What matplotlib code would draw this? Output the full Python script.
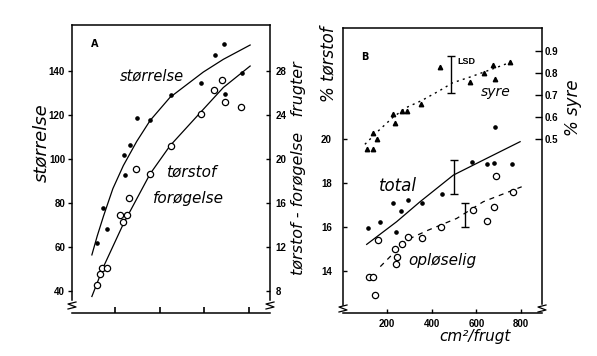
import numpy as np
import matplotlib
matplotlib.use('Agg')
import matplotlib.pyplot as plt
from matplotlib.lines import Line2D

# ---- panel A: fruit size (left axis) and dry matter gain (right axis)
size_x = [118, 148, 166, 242, 245, 267, 297, 357, 449, 585, 648, 688, 693, 767]
size_y = [62, 77.6, 68, 101.8, 92.7, 106.4, 118.5, 117.7, 129, 134.7, 147.3, 152.3, 129.5, 139]
size_curve_x = [96, 120, 148, 190, 237, 297, 357, 446, 595, 685, 805]
size_curve_y = [56.4, 65, 74, 86.5, 97, 108, 117.5, 128, 139.5, 145.3, 151.8]

dry_x = [118, 133, 140, 163, 222, 237, 252, 264, 293, 357, 449, 584, 643, 681, 693, 765]
dry_y = [8.55, 9.55, 10.1, 10.05, 14.9, 14.3, 14.9, 16.45, 19.1, 18.65, 21.2, 24.1, 26.3, 27.2, 25.2, 24.7]
dry_curve_x = [96, 148, 237, 357, 446, 581, 685, 805]
dry_curve_y = [7.5, 10.2, 14.1, 18.65, 21.2, 24.2, 26.5, 28.45]

# ---- panel B: acid (right axis), total and soluble dry matter (left axis)
acid_x = [112, 139, 139, 154, 228, 236, 266, 288, 352, 437, 572, 634, 676, 684, 751]
acid_y = [0.455, 0.453, 0.529, 0.499, 0.614, 0.575, 0.629, 0.629, 0.659, 0.828, 0.759, 0.80, 0.836, 0.774, 0.851]
acid_curve_x = [101, 161, 228, 288, 355, 437, 494, 572, 676, 758]
acid_curve_y = [0.476, 0.537, 0.600, 0.644, 0.675, 0.721, 0.756, 0.782, 0.820, 0.851]

total_x = [116, 169, 228, 240, 263, 295, 355, 445, 579, 646, 679, 684, 761]
total_y = [15.94, 16.21, 17.10, 15.76, 16.73, 17.23, 17.08, 17.49, 18.97, 18.86, 18.89, 20.53, 18.86]
total_curve_x = [109, 243, 348, 497, 646, 796]
total_curve_y = [15.21, 16.24, 17.15, 18.36, 19.12, 19.88]

sol_x = [121, 139, 146, 158, 236, 239, 243, 266, 295, 358, 442, 584, 646, 679, 686, 763]
sol_y = [13.74, 13.74, 12.91, 15.41, 15.0, 14.30, 14.65, 15.21, 15.56, 15.49, 15.99, 16.77, 16.29, 16.92, 18.32, 17.58]
sol_curve_x = [170, 288, 385, 512, 631, 803]
sol_curve_y = [14.2, 15.41, 15.86, 16.39, 17.15, 17.83]

lsd_acid = (487, 0.708, 0.878)
lsd_total = (500, 17.5, 19.05)
lsd_sol = (551, 15.99, 17.10)

W, H = 597, 356


def fx(px):
    return px / W


def fy(py):
    return 1 - py / H


tick_font = 'Liberation Sans'
hand = dict(family='DejaVu Sans', style='italic', color='black')
tick_kw = dict(labelsize=7, width=1, colors='black')

fig = plt.figure(figsize=(5.97, 3.56), dpi=100)


def style_ticklabels(ax):
    for lab in ax.get_xticklabels() + ax.get_yticklabels():
        lab.set_fontfamily(tick_font)
        lab.set_fontweight('bold')


def break_mark(px, py):
    xs = [px - 4, px + 4, px - 4, px + 4]
    ys = [py + 4, py + 2, py - 1, py - 3]
    fig.add_artist(Line2D([fx(x) for x in xs], [fy(y) for y in ys],
                          transform=fig.transFigure, color='black', lw=0.9))


# ---------------- panel A
axA = fig.add_axes([fx(72), fy(313), fx(270) - fx(72), fy(25) - fy(313)])
axA.set_xlim(7, 894)
axA.set_ylim(30, 160.9)
axA2 = axA.twinx()
axA2.set_ylim(6, 32.18)

axA.plot(size_curve_x, size_curve_y, color='black', lw=0.9)
axA.plot(size_x, size_y, 'o', color='black', ms=2.3)
axA2.plot(dry_curve_x, dry_curve_y, color='black', lw=0.9)
axA2.plot(dry_x, dry_y, 'o', mfc='white', mec='black', ms=4.5, mew=0.9)

axA.set_yticks([40, 60, 80, 100, 120, 140])
axA.set_xticks([200, 400, 600, 800])
axA.tick_params(axis='y', direction='out', length=3, pad=2, **tick_kw)
axA.tick_params(axis='x', direction='in', length=4, labelbottom=False, width=1.2)
axA2.set_yticks([8, 12, 16, 20, 24, 28])
axA2.tick_params(axis='y', direction='in', length=3, pad=4, **tick_kw)
axA.spines['right'].set_visible(False)
axA.spines['left'].set_bounds(35.9, 160.9)
for s in ['left', 'top', 'bottom']:
    axA2.spines[s].set_visible(False)
axA2.spines['right'].set_bounds(7.2, 32.18)
for ax in (axA, axA2):
    for s in ax.spines.values():
        s.set_linewidth(1.1)
    style_ticklabels(ax)

fig.text(fx(95), fy(44), 'A', fontsize=7, fontweight='bold', ha='center', va='center')
fig.text(fx(152), fy(76), 'størrelse', fontsize=10.5, ha='center', va='center', **hand)
fig.text(fx(191), fy(172), 'tørstof', fontsize=11, ha='center', va='center', **hand)
fig.text(fx(188), fy(199), 'forøgelse', fontsize=11, ha='center', va='center', **hand)
fig.text(fx(41), fy(143), 'størrelse', fontsize=13, rotation=90, ha='center', va='center', **hand)
fig.text(fx(298), fy(168), 'tørstof - forøgelse   frugter', fontsize=11.5, rotation=90,
         ha='center', va='center', **hand)

# ---------------- panel B
axB = fig.add_axes([fx(343), fy(313), fx(542) - fx(343), fy(28) - fy(313)])
axB.set_xlim(3, 894)
axB.set_ylim(12.09, 25.05)
axB2 = axB.twinx()
axB2.set_ylim(-0.291, 1.005)

axB2.plot(acid_curve_x, acid_curve_y, color='black', lw=1, ls=(0, (1.5, 3)))
axB2.plot(acid_x, acid_y, '^', color='black', ms=3.2)
axB.plot(total_curve_x, total_curve_y, color='black', lw=0.9)
axB.plot(total_x, total_y, 'o', color='black', ms=2.3)
axB.plot(sol_curve_x, sol_curve_y, color='black', lw=0.9, ls=(0, (4, 4)))
axB.plot(sol_x, sol_y, 'o', mfc='white', mec='black', ms=4.5, mew=0.9)

for ax, (x, lo, hi) in [(axB2, lsd_acid), (axB, lsd_total), (axB, lsd_sol)]:
    ax.errorbar([x], [(lo + hi) / 2], yerr=[(hi - lo) / 2], fmt='none',
                ecolor='black', elinewidth=1, capsize=3, capthick=1)

axB.set_xticks([200, 400, 600, 800])
axB.set_yticks([14, 16, 18, 20])
axB.tick_params(axis='y', direction='in', length=3, pad=8, **tick_kw)
axB.tick_params(axis='x', direction='in', length=3, pad=4, **tick_kw)
axB2.set_yticks([0.5, 0.6, 0.7, 0.8, 0.9])
axB2.set_yticklabels(['0.5', '0.6', '0.7', '0.8', '0.9'])
axB2.tick_params(axis='y', direction='in', length=5, pad=2, **tick_kw)
axB.spines['right'].set_visible(False)
axB.spines['left'].set_bounds(12.45, 25.05)
for s in ['left', 'top', 'bottom']:
    axB2.spines[s].set_visible(False)
axB2.spines['right'].set_bounds(-0.25, 1.005)
for ax in (axB, axB2):
    for s in ax.spines.values():
        s.set_linewidth(1.1)
    style_ticklabels(ax)

fig.text(fx(365), fy(57), 'B', fontsize=7, fontweight='bold', ha='center', va='center')
fig.text(fx(466), fy(62), 'LSD', fontsize=6.5, fontweight='bold', ha='center', va='center',
         family=tick_font)
fig.text(fx(496), fy(92), 'syre', fontsize=10, ha='center', va='center', **hand)
fig.text(fx(398), fy(186), 'total', fontsize=12, ha='center', va='center', **hand)
fig.text(fx(442), fy(261), 'opløselig', fontsize=11, ha='center', va='center', **hand)
fig.text(fx(328), fy(64), '% tørstof', fontsize=12, rotation=90, ha='center', va='center', **hand)
fig.text(fx(573), fy(108), '% syre', fontsize=12, rotation=90, ha='center', va='center', **hand)
fig.text(fx(475), fy(336), 'cm²/frugt', fontsize=11, ha='center', va='center', **hand)

for px, py in [(72, 305), (270, 305), (343, 308), (542, 308)]:
    break_mark(px, py)

fig.savefig('out.png', dpi=100)
